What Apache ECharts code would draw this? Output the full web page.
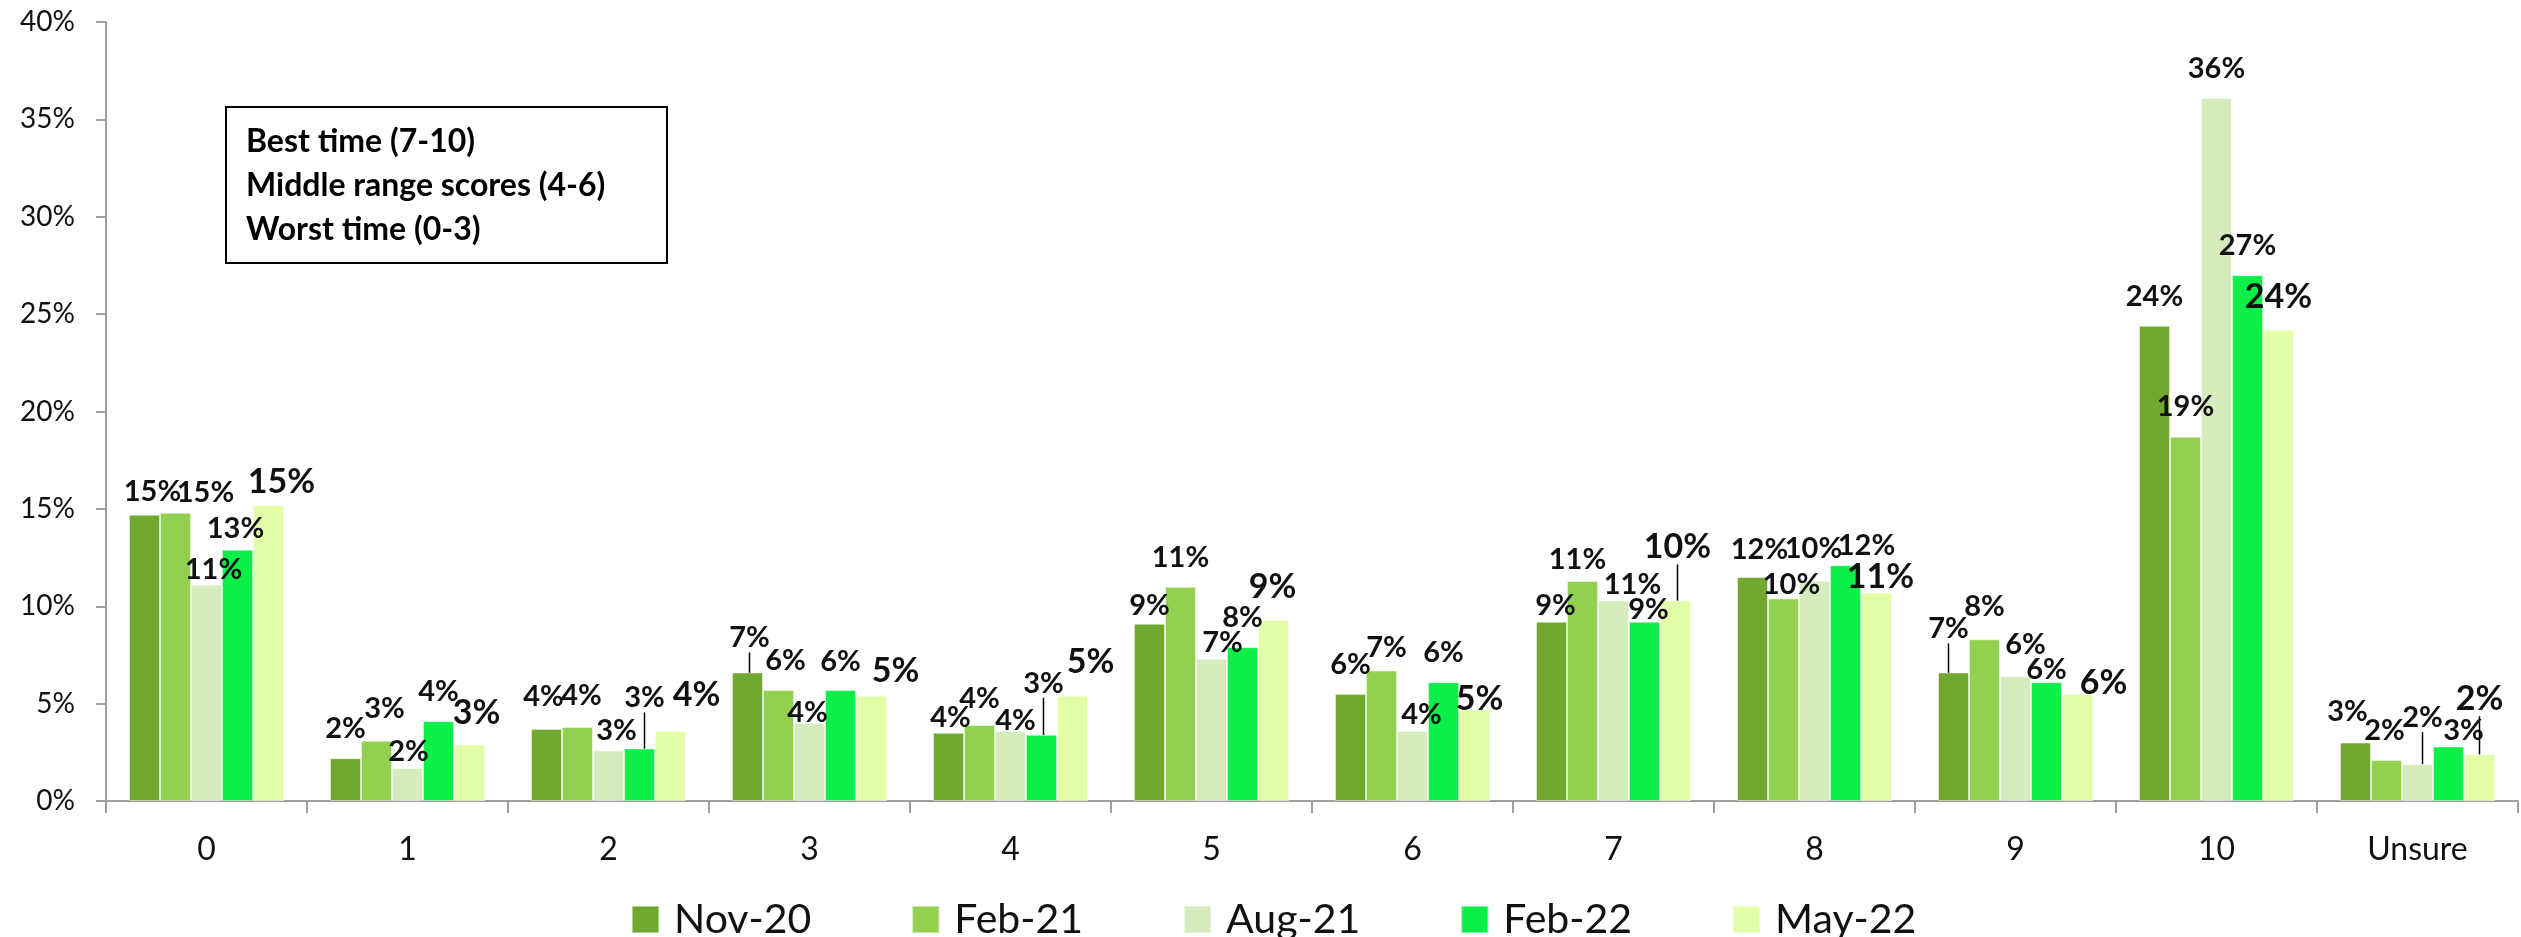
<!DOCTYPE html>
<html>
<head>
<meta charset="utf-8">
<script src="https://cdn.jsdelivr.net/npm/echarts@6/dist/echarts.min.js"></script>
<style>
  html, body { margin: 0; padding: 0; background: #fff; }
  #chart { width: 2521px; height: 937px; }
</style>
</head>
<body>
<div id="chart"></div>
<script>
// categories (score 0-10 + unsure)
var categories = ['0', '1', '2', '3', '4', '5', '6', '7', '8', '9', '10', 'Unsure'];
var seriesNames = ['Nov-20', 'Feb-21', 'Aug-21', 'Feb-22', 'May-22'];

// bar heights, percent
var nov20 = [14.7, 2.2, 3.7, 6.6, 3.5, 9.1, 5.5, 9.2, 11.5, 6.6, 24.4, 3.0];
var feb21 = [14.8, 3.1, 3.8, 5.7, 3.9, 11.0, 6.7, 11.3, 10.4, 8.3, 18.7, 2.1];
var aug21 = [11.1, 1.7, 2.6, 4.0, 3.6, 7.3, 3.6, 10.3, 11.3, 6.4, 36.1, 1.9];
var feb22 = [12.9, 4.1, 2.7, 5.7, 3.4, 7.9, 6.1, 9.2, 12.1, 6.1, 27.0, 2.8];
var may22 = [15.2, 2.9, 3.6, 5.4, 5.4, 9.3, 4.7, 10.3, 10.7, 5.5, 24.2, 2.4];

// data label text as printed on the chart (percent)
var nov20Labels = [15, 2, 4, 7, 4, 9, 6, 9, 12, 7, 24, 3];
var feb21Labels = [15, 3, 4, 6, 4, 11, 7, 11, 10, 8, 19, 2];
var aug21Labels = [11, 2, 3, 4, 4, 7, 4, 11, 10, 6, 36, 2];
var feb22Labels = [13, 4, 3, 6, 3, 8, 6, 9, 12, 6, 27, 3];
var may22Labels = [15, 3, 4, 5, 5, 9, 5, 10, 11, 6, 24, 2];

var noteLines = ['Best time (7-10)', 'Middle range scores (4-6)', 'Worst time (0-3)'];

// ---- styling below ----
var colors = ['#70A830', '#92D050', '#D6ECBC', '#0CEE48', '#E2FFA8'];

// label nudges [dx, dy] in px (labels were hand placed in the original)
var labelShift = [
  [[8, 6], [0, 0], [-3, -3], [2, -5], [2, 14], [0, 11], [0, 0], [4, 13], [7, 2], [-5, -14], [0, 0], [-8, -1]],
  [[30, 9], [8, -2], [4, -2], [7, 0], [0, 3], [0, 0], [5, 7], [-5, 8], [8, 16], [0, -3], [0, -1], [-2, 0]],
  [[7, 14], [1, 13], [8, 10], [-2, 19], [5, 19], [11, 13], [9, 13], [19, 14], [-1, -3], [10, -2], [0, 0], [5, -17]],
  [[-2, 8], [0, 0], [5, -21], [0, 1], [2, -22], [0, 0], [0, 0], [4, 17], [21, 10], [0, 17], [0, 0], [15, 14]],
  [[13, 9], [7, 1], [26, -4], [24, 7], [18, -2], [-1, -1], [5, 22], [2, -21], [4, 16], [26, 21], [0, -1], [0, -23]]
];
// which labels have a leader line
var leaders = [[3, 9], [], [11], [2, 4], [7, 11]];

var FONT = 'Lato, "Open Sans", sans-serif';

function buildSeries(idx, values, labels) {
  var big = idx === 4;
  return {
    name: seriesNames[idx],
    type: 'bar',
    barWidth: 31,
    barGap: '0%',
    itemStyle: {
      color: colors[idx],
      borderColor: 'rgba(255,255,255,0.45)',
      borderWidth: 1
    },
    label: {
      show: true,
      position: 'top',
      distance: 15,
      fontFamily: FONT,
      fontWeight: 'bold',
      fontSize: big ? 34 : 29,
      color: '#111',
      formatter: function (p) { return labels[p.dataIndex] + '%'; }
    },
    labelLayout: function (p) {
      var s = labelShift[idx][p.dataIndex];
      return { dx: s[0], dy: s[1] };
    },
    data: values.map(function (v, i) {
      var item = { value: v };
      if (leaders[idx].indexOf(i) >= 0) {
        item.labelLine = { show: true, lineStyle: { color: '#000', width: 1.5 } };
      }
      return item;
    })
  };
}

var chart = echarts.init(document.getElementById('chart'));
chart.setOption({
  animation: false,
  color: colors,
  grid: { left: 106, right: 3, top: 22, bottom: 136 },
  legend: {
    data: seriesNames,
    left: 626,
    top: 894,
    itemWidth: 27,
    itemHeight: 27,
    itemGap: 100,
    icon: 'rect',
    textStyle: {
      fontFamily: FONT,
      fontSize: 41,
      color: '#111',
      width: 150,
      padding: [0, 0, 0, 10]
    }
  },
  xAxis: {
    type: 'category',
    data: categories,
    axisLine: { lineStyle: { color: '#A0A0A0', width: 2 } },
    axisTick: { show: true, length: 12, lineStyle: { color: '#A0A0A0', width: 2 } },
    axisLabel: {
      interval: 0,
      margin: 33,
      fontFamily: FONT,
      fontSize: 32,
      color: '#111'
    }
  },
  yAxis: {
    type: 'value',
    min: 0,
    max: 40,
    interval: 5,
    axisLine: { show: true, lineStyle: { color: '#A0A0A0', width: 2 } },
    axisTick: { show: true, length: 10, lineStyle: { color: '#A0A0A0', width: 2 } },
    splitLine: { show: false },
    axisLabel: {
      margin: 31,
      fontFamily: FONT,
      fontSize: 28,
      color: '#111',
      formatter: '{value}%'
    }
  },
  graphic: [
    {
      type: 'rect',
      shape: { x: 226, y: 107, width: 441, height: 156 },
      style: { fill: '#fff', stroke: '#000', lineWidth: 2 }
    },
    {
      type: 'text',
      x: 246,
      y: 186,
      style: {
        text: noteLines.join('\n'),
        fontFamily: FONT,
        fontWeight: 'bold',
        fontSize: 32,
        lineHeight: 44,
        fill: '#000',
        verticalAlign: 'middle'
      }
    }
  ],
  series: [
    buildSeries(0, nov20, nov20Labels),
    buildSeries(1, feb21, feb21Labels),
    buildSeries(2, aug21, aug21Labels),
    buildSeries(3, feb22, feb22Labels),
    buildSeries(4, may22, may22Labels)
  ]
});
</script>
</body>
</html>
